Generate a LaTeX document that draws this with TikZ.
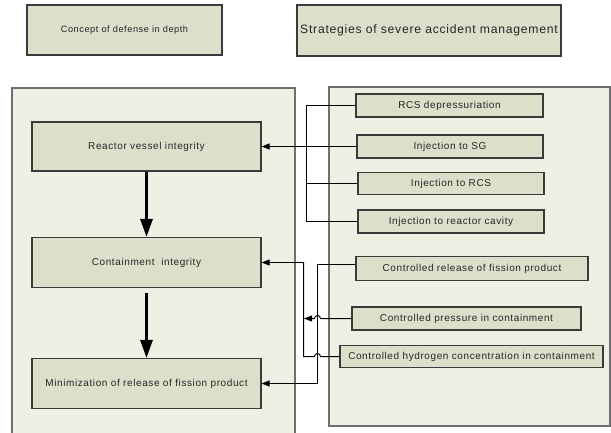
\documentclass[tikz,border=0pt]{standalone}
\usepackage{fontspec}
\setmainfont{Liberation Sans}[LetterSpace=6]
\usetikzlibrary{arrows.meta}
\definecolor{boxfill}{HTML}{DCDFCA}
\definecolor{panelfill}{HTML}{EEF0E3}
\definecolor{panelline}{HTML}{6E6E6E}
\definecolor{boxline}{HTML}{3A3A3A}
\begin{document}
\begin{tikzpicture}[x=1pt,y=-1pt,
  box/.style={draw=boxline,line width=1.1pt,fill=boxfill,inner sep=0pt,
    font=\fontsize{10}{12}\selectfont,text=black!85},
  panel/.style={draw=panelline,line width=1.3pt,fill=panelfill},
  conn/.style={draw=black,line width=1pt},
  thinarrow/.style={conn,-{Triangle[width=6pt,length=8pt]}},
  thickarrow/.style={draw=black,line width=2.8pt,-{Triangle[width=12pt,length=18pt]}}]
\useasboundingbox (0,0) rectangle (611,432);
\fill[white] (0,0) rectangle (611,432);
\begin{scope}
\clip (0,0) rectangle (611,432);
% panels
\path[panel] (12,88) rectangle (295,445);
\path[panel] (329,87) rectangle (610,426);
\end{scope}
% header boxes
\node[box,minimum width=195pt,minimum height=50pt,font=\fontsize{9.2}{11}\selectfont] (hl) at (124.5,30) {Concept of defense in depth};
\node[box,minimum width=264pt,minimum height=51pt,font=\fontsize{12.2}{14}\selectfont] (hr) at (429,30.5) {Strategies of severe accident management};
% left boxes
\node[box,minimum width=229pt,minimum height=49pt] (rv) at (146.5,146.5) {Reactor vessel integrity};
\node[box,minimum width=229pt,minimum height=50pt] (ci) at (146.5,262.5) {Containment\ \ integrity};
\node[box,minimum width=229pt,minimum height=50pt] (mr) at (146.5,383.5) {Minimization of release of fission product};
% right boxes
\node[box,minimum width=187pt,minimum height=23pt] (rd) at (449.5,105.5) {RCS depressuriation};
\node[box,minimum width=186pt,minimum height=23pt] (sg) at (450,146.5) {Injection to SG};
\node[box,minimum width=186pt,minimum height=22pt] (rc) at (451,183.5) {Injection to RCS};
\node[box,minimum width=186pt,minimum height=23pt] (cv) at (451,221.5) {Injection to reactor cavity};
\node[box,minimum width=232pt,minimum height=24pt] (fp) at (472,268.5) {Controlled release of fission product};
\node[box,minimum width=229pt,minimum height=23pt] (pc) at (466.5,318.5) {Controlled pressure in containment};
\node[box,minimum width=263pt,minimum height=22pt] (hc) at (471.5,356.5) {Controlled hydrogen concentration in containment};
% thick arrows
\draw[thickarrow] (rv.south) -- (ci.north);
\draw[thickarrow,shorten <=5pt] (ci.south) -- (mr.north);
% bracket for reactor vessel strategies
\coordinate (btop) at (306.5,105.5);
\coordinate (bsg) at (306.5,146.5);
\coordinate (brc) at (306.5,183.5);
\coordinate (bbot) at (306.5,221.5);
\draw[conn] (rd.west) -- (btop) -- (bbot) -- (cv.west);
\draw[conn] (rc.west) -- (brc);
\draw[conn] (sg.west) -- (bsg);
\draw[thinarrow] (bsg) -- (rv.east);
% fission product release to minimization
\coordinate (fa) at (317.5,264.5);
\coordinate (fb) at (317.5,383.5);
\draw[conn] ([yshift=4pt]fp.west) -- (fa) -- (fb);
\draw[thinarrow] (fb) -- (mr.east);
% containment strategies
\coordinate (ca) at (303.5,262.5);
\coordinate (cb) at (303.5,356.5);
\draw[conn] (hc.west) -- (320.5,356.5) arc[start angle=0,end angle=180,radius=3pt] -- (cb) -- (ca);
\draw[thinarrow] (ca) -- (ci.east);
\draw[thinarrow] (pc.west) -- (320.5,318.5) arc[start angle=0,end angle=180,radius=3pt] -- (304,318.5);
\end{tikzpicture}
\end{document}
